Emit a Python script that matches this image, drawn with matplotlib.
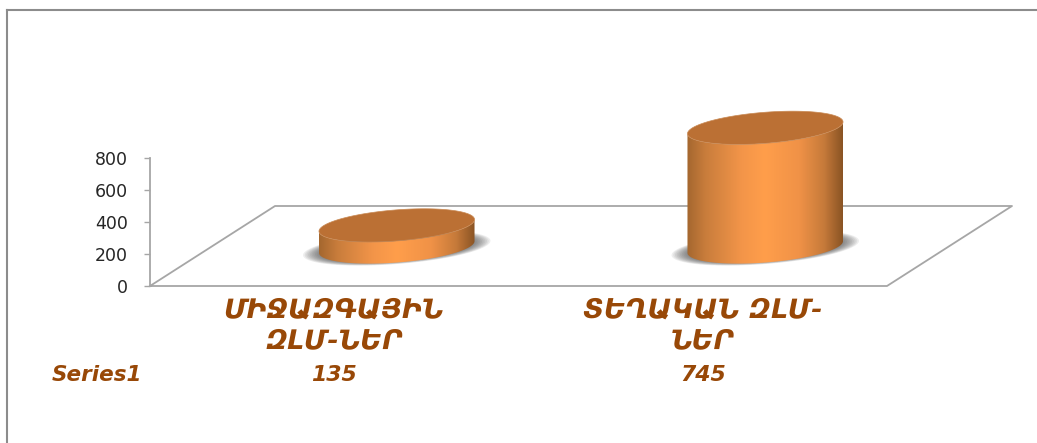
#!/usr/bin/env python
# coding: utf-8

import matplotlib
matplotlib.use("Agg")
import matplotlib.pyplot as plt
import numpy as np
from matplotlib.colors import LinearSegmentedColormap
from matplotlib.lines import Line2D
from matplotlib.patches import Polygon

categories = ["ՄԻՋԱԶԳԱՅԻՆ\nԶԼՄ-ՆԵՐ", "ՏԵՂԱԿԱՆ ԶԼՄ-\nՆԵՐ"]
values = [135, 745]
series_name = "Series1"
y_ticks = [0, 200, 400, 600, 800]

text_color = "#984807"
line_color = "#a6a6a6"
top_color = "#bb7034"
body_cmap = LinearSegmentedColormap.from_list("body", [
    (0.0, "#a4672f"), (0.12, "#c97d3c"), (0.35, "#f39549"), (0.5, "#ff9e4b"),
    (0.72, "#f09247"), (0.88, "#c67a3a"), (1.0, "#8a5424")])

W, H = 1037, 443
fig = plt.figure(figsize=(W / 100, H / 100), dpi=100)
ax = fig.add_axes([150 / W, 1 - 286 / H, 737 / W, 128 / H])

# size of one pixel in data units
px_x = 2 / 737
px_y = 800 / 128
depth_x = 125 * px_x
depth_y = 80 * px_y
tilt = np.radians(4.5)

# floor of the 3d box
floor_x = [-0.5, 1.5, 1.5 + depth_x, -0.5 + depth_x, -0.5]
floor_y = [0, 0, depth_y, depth_y, 0]
ax.plot(floor_x, floor_y, color=line_color, lw=1.3, clip_on=False, zorder=1)


def ellipse(cx, cy, a, b, t):
    ex = a * np.cos(t) * np.cos(tilt) - b * np.sin(t) * np.sin(tilt)
    ey = a * np.cos(t) * np.sin(tilt) + b * np.sin(t) * np.cos(tilt)
    return np.column_stack([cx + ex * px_x, cy + ey * px_y])


all_t = np.linspace(0, 2 * np.pi, 200)
a, b = 78, 15.5
t0 = np.arctan(-b * np.sin(tilt) / (a * np.cos(tilt)))

for i, val in enumerate(values):
    cx = i + depth_x / 2
    cy = depth_y / 2 - 1 * px_y

    # soft shadow on the floor
    for scale in np.linspace(1.0, 0.8, 12):
        ax.add_patch(Polygon(ellipse(cx, cy - 1 * px_y, 94 * scale, 16 * scale, all_t),
                             fc="#444444", ec="none", alpha=0.09,
                             clip_on=False, zorder=2))

    # body with the horizontal shading
    lower = ellipse(cx, cy, a, b, np.linspace(np.pi + t0, 2 * np.pi + t0, 80))
    upper = ellipse(cx, cy + val, a, b, np.linspace(2 * np.pi + t0, np.pi + t0, 80))
    body = Polygon(np.vstack([lower, upper]), fc="none", ec="none", clip_on=False,
                   zorder=3)
    ax.add_patch(body)
    im = ax.imshow(np.linspace(0, 1, 256).reshape(1, -1), cmap=body_cmap, aspect="auto",
                   extent=[lower[:, 0].min(), lower[:, 0].max(), cy - 30 * px_y,
                           cy + val + 30 * px_y], zorder=3)
    im.set_clip_box(fig.bbox)
    im.set_clip_path(body)

    # top cap
    ax.add_patch(Polygon(ellipse(cx, cy + val, a, b, all_t), fc=top_color, ec="#c98a55",
                         lw=0.5, clip_on=False, zorder=4))

ax.set_xlim(-0.5, 1.5)
ax.set_ylim(0, 800)
ax.set_xticks(range(len(categories)))
ax.set_xticklabels(categories, fontsize=19.5, fontweight="bold", fontstyle="italic",
                   color=text_color, linespacing=1.27)
ax.set_yticks(y_ticks)
ax.tick_params(axis="x", length=0, pad=8)
ax.tick_params(axis="y", length=4.5, width=1, color=line_color, labelsize=12.5,
               labelcolor="#262626", pad=11.5)
for name in ["top", "right", "bottom"]:
    ax.spines[name].set_visible(False)
ax.spines["left"].set_color(line_color)
ax.spines["left"].set_linewidth(1.3)
ax.patch.set_visible(False)

# data table row under the categories
trans = ax.get_xaxis_transform()
ax.text(-0.644, -0.695, series_name, transform=trans, ha="center", va="center",
        fontsize=15.5, fontweight="bold", fontstyle="italic", color=text_color)
for i, val in enumerate(values):
    ax.text(i, -0.695, str(val), transform=trans, ha="center", va="center",
            fontsize=15.8, fontweight="bold", fontstyle="italic", color=text_color)

# outer chart frame, only top and left are in the crop
fig.add_artist(Line2D([7 / W, 7 / W], [0, 1 - 10 / H], color="#8c8c8c", lw=1.5))
fig.add_artist(Line2D([7 / W, 1], [1 - 10 / H, 1 - 10 / H], color="#8c8c8c", lw=1.5))

fig.savefig("out.png", dpi=100)
plt.close()
